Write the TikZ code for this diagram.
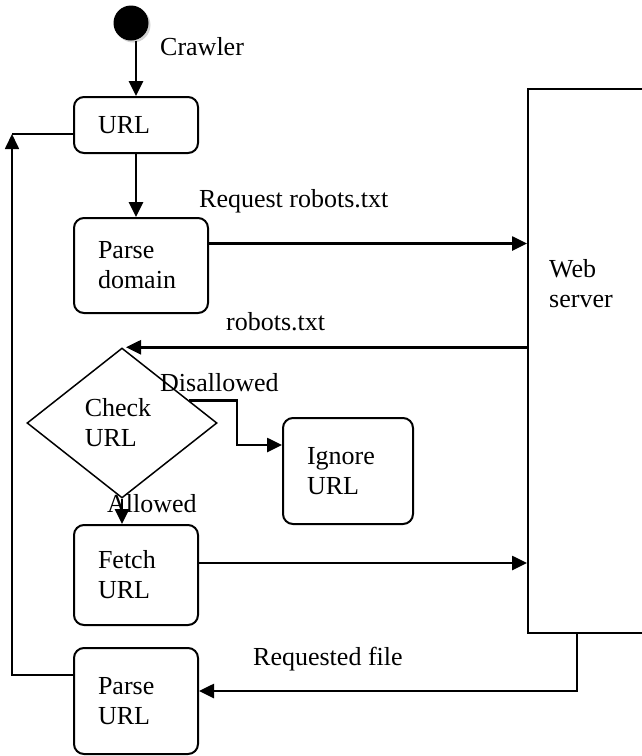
\documentclass[tikz,border=0pt]{standalone}
\usepackage{fontspec}
\setmainfont{Liberation Serif}
\usetikzlibrary{arrows.meta, shapes.geometric, shadows, calc}
\tikzset{>={Triangle[length=15pt, width=14pt]}}
\tikzset{actbox/.style={draw, rounded corners=10pt, line width=2pt, align=left,
        inner xsep=24pt, inner ysep=0pt, text width=#1},
    flow/.style={->, line width=2.6pt},
    back/.style={->, line width=1.7pt},
    txt/.style={anchor=base west, inner sep=0pt}}

\begin{document}
\begin{tikzpicture}[x=1pt, y=-1pt, font=\fontsize{26}{30}\selectfont]
    \useasboundingbox (0,0) rectangle (641,756);
    \node[circle, fill=black, minimum size=35pt, inner sep=0pt,
        drop shadow={shadow xshift=2pt, shadow yshift=-2pt, opacity=0.35}] (start) at (131,23) {};
    \node[txt] (crawler) at (160,55) {Crawler};
    \node[actbox=76pt, minimum height=56pt] (url) at (136,125) {URL};
    \node[actbox=86pt, minimum height=95pt] (pdom) at (141,265.5) {Parse\\domain};
    \node[draw, diamond, line width=1.5pt, minimum width=190pt, minimum height=150pt,
        inner sep=0pt, align=left] (chk) at (122,423) {Check\hspace*{8pt}\\URL};
    \node[actbox=82pt, minimum height=106pt] (ign) at (348,471) {Ignore\\URL};
    \node[actbox=76pt, minimum height=100pt] (fetch) at (136,575) {Fetch\\URL};
    \node[actbox=76pt, minimum height=106pt] (purl) at (136,701) {Parse\\URL};
    \node[draw, line width=1.7pt, anchor=north west, minimum width=140pt,
        minimum height=544pt] (web) at (527,88) {};
    \node[txt, align=left] (webtxt) at (549,307) {Web\\server};
    \coordinate (loop) at (12,134);

    \draw[flow] (start.south -| url.north) -- (url.north);
    \draw[flow] (url.south) -- (url.south |- pdom.north);
    \draw[flow] ([yshift=22pt]pdom.east) -- ([yshift=22pt]pdom.east -| web.west);
    \draw[flow] (web.west |- chk.north) -- ([xshift=4pt]chk.north);
    \draw[flow] ($(chk.north)!0.7!(chk.east)$) -- ++(48,0) |- ([yshift=26pt]ign.west);
    \draw[flow] (chk.south) -- (chk.south |- fetch.north);
    \draw[flow] ([yshift=12pt]fetch.east) -- ([yshift=12pt]fetch.east -| web.west);
    \draw[flow] ([xshift=50pt]web.south west) |- ([yshift=10pt]purl.east);
    \draw[back] ([yshift=26pt]purl.west) -| (loop);
    \draw[line width=1.7pt] (loop) -- (loop -| url.west);

    \node[txt] (lreq) at (199,207) {Request robots.txt};
    \node[txt] (lrob) at (226,330) {robots.txt};
    \node[txt] (ldis) at (160,391) {Disallowed};
    \node[txt] (lall) at (107,512) {Allowed};
    \node[txt] (lfile) at (253,665) {Requested file};
\end{tikzpicture}
\end{document}
